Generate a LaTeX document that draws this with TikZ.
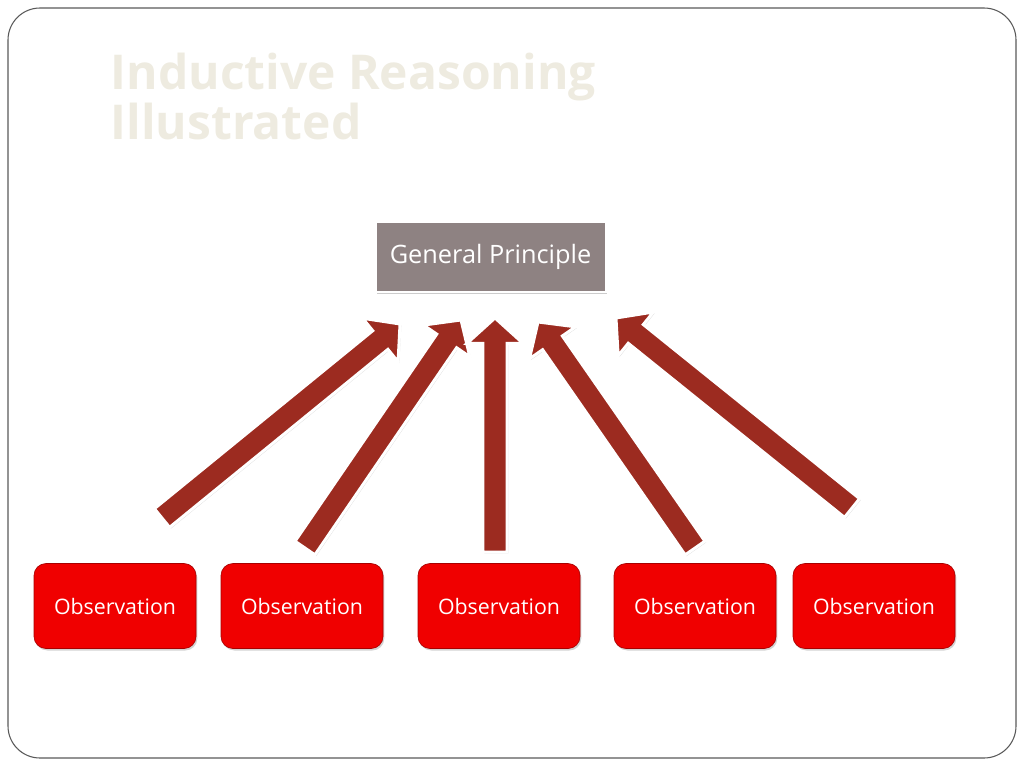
\documentclass[tikz,border=0pt]{standalone}
\usepackage{fontspec}
\setmainfont{Open Sans}
\usetikzlibrary{calc,shadows}
\definecolor{arrred}{HTML}{9C2B20}
\definecolor{obsred}{HTML}{F00000}
\definecolor{gpgray}{HTML}{8E8282}
\definecolor{titlec}{HTML}{EEEBE0}
\begin{document}
\begin{tikzpicture}[x=0.75pt,y=-0.75pt,
  obs/.style={draw=obsred!70!black,line width=0.5pt,fill=obsred,rounded corners=9pt,minimum width=121.5pt,minimum height=63.75pt,text=white,font=\fontsize{16}{19}\selectfont,drop shadow={shadow xshift=1pt,shadow yshift=-1.5pt,opacity=0.35}},
  gp/.style={draw=white,line width=2pt,fill=gpgray,minimum width=173pt,minimum height=52.5pt,text=white,font=\fontsize{19}{23}\selectfont,drop shadow={shadow xshift=1pt,shadow yshift=-1.5pt,opacity=0.4}},
  barrow/.style={fill=arrred,draw=white,line width=2.2pt,line join=miter,drop shadow={shadow xshift=1pt,shadow yshift=-1pt,opacity=0.25}}]
\useasboundingbox (0,0) rectangle (1024,768);
\draw[gray!70!black,line width=0.8pt,rounded corners=24pt] (8,8) rectangle (1016,758);
\node[anchor=north west,align=left,text=titlec,font=\fontsize{36}{38}\bfseries\selectfont] (title) at (106,48) {Inductive Reasoning\\Illustrated};
\node[gp] (gp) at (490.5,257) {General Principle};
\node[obs] (o1) at (115,606) {Observation};
\node[obs] (o2) at (302,606) {Observation};
\node[obs] (o3) at (499,606) {Observation};
\node[obs] (o4) at (695,606) {Observation};
\node[obs] (o5) at (874,606) {Observation};
\newcommand{\blockarr}[2]{%
  \path let \p1=(#1), \p2=(#2) in coordinate (hb) at ($(#2)!19pt!(#1)$);
  \draw[barrow] ($(#1)!9pt!90:(#2)$) -- ($(hb)!9pt!-90:(#1)$) -- ($(hb)!21pt!-90:(#1)$) -- (#2)
     -- ($(hb)!21pt!90:(#1)$) -- ($(hb)!9pt!90:(#1)$) -- ($(#1)!9pt!-90:(#2)$) -- cycle;}
\coordinate (a1s) at (162,518); \coordinate (a1e) at (400,324);
\coordinate (a2s) at (305,548); \coordinate (a2e) at (461,320);
\coordinate (a3s) at (495,552); \coordinate (a3e) at (495,318);
\coordinate (a4s) at (695,548); \coordinate (a4e) at (538,322);
\coordinate (a5s) at (852,508); \coordinate (a5e) at (616,318);
\blockarr{a1s}{a1e}
\blockarr{a2s}{a2e}
\blockarr{a3s}{a3e}
\blockarr{a4s}{a4e}
\blockarr{a5s}{a5e}
\end{tikzpicture}
\end{document}
